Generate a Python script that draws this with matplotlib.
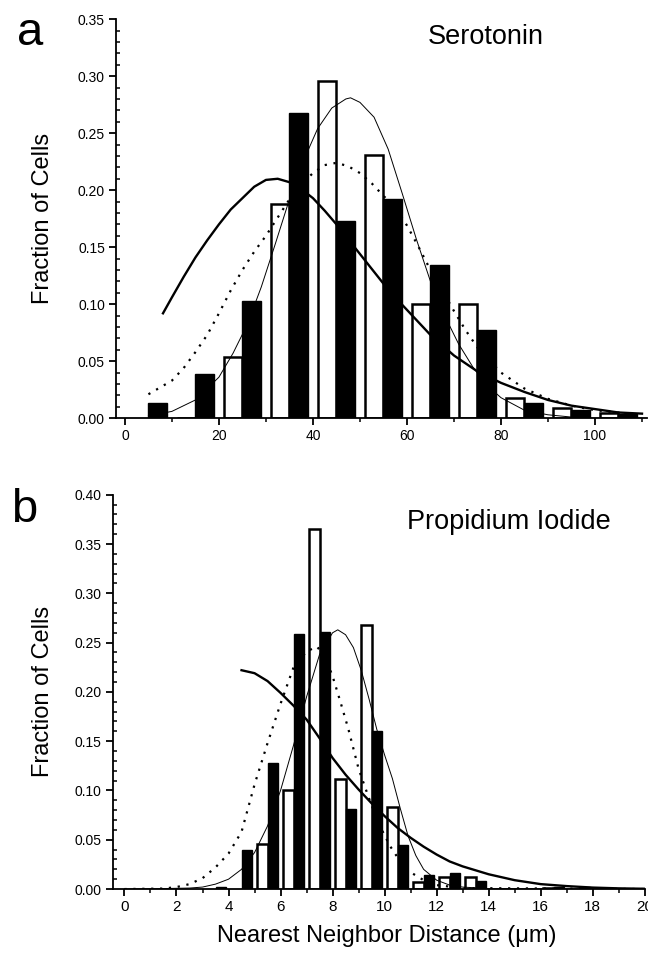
# Nearest-neighbor distance histograms with fitted distributions,
# panel a: serotonin-labelled cells, panel b: propidium iodide.
import matplotlib
matplotlib.use('Agg')
import matplotlib.pyplot as plt
from matplotlib.ticker import MultipleLocator, FormatStrFormatter

plt.rcParams['font.family'] = ['Liberation Sans', 'DejaVu Sans']

# ---- panel a data (distance in um, fraction of cells) ----
a_black_x = [7, 17, 27, 37, 47, 57, 67, 77, 87, 97, 107]
a_black_y = [0.013, 0.039, 0.103, 0.268, 0.173, 0.192, 0.134, 0.077, 0.013, 0.007, 0.004]
a_white_x = [13, 23, 33, 43, 53, 63, 73, 83, 93, 103]
a_white_y = [0.0, 0.054, 0.188, 0.296, 0.231, 0.100, 0.100, 0.018, 0.009, 0.005]

a_thick_x = [8.1, 10, 12.5, 15, 17.5, 20, 22.5, 25, 27.5, 30, 32.5, 35, 37.5, 40,
             42.5, 45, 47.5, 50, 52.5, 55, 57.5, 60, 62.5, 65, 67.5, 70, 72.5, 75,
             80, 85, 90, 95, 100, 105, 110]
a_thick_y = [0.092, 0.106, 0.124, 0.141, 0.156, 0.170, 0.183, 0.193, 0.203, 0.209,
             0.210, 0.207, 0.201, 0.193, 0.182, 0.170, 0.157, 0.144, 0.131, 0.118,
             0.106, 0.095, 0.084, 0.073, 0.064, 0.055, 0.048, 0.041, 0.031, 0.023,
             0.016, 0.011, 0.008, 0.005, 0.004]

a_thin_x = [5, 10, 15, 20, 23, 26, 29, 32, 35, 38, 41, 44, 47, 48, 50, 53, 56, 59,
            62, 65, 68, 71, 74, 77, 80, 85, 90, 95, 100, 110]
a_thin_y = [0.002, 0.006, 0.016, 0.036, 0.057, 0.082, 0.115, 0.153, 0.192, 0.226,
            0.254, 0.272, 0.280, 0.281, 0.277, 0.264, 0.236, 0.197, 0.157, 0.120,
            0.090, 0.065, 0.045, 0.029, 0.018, 0.007, 0.003, 0.001, 0.0, 0.0]

a_dot_x = [5, 7.5, 10, 12.5, 15, 17.5, 20, 22.5, 25, 27.5, 30, 32.5, 35, 37.5, 40,
           42.5, 45, 47.5, 50, 52.5, 55, 57.5, 60, 62.5, 65, 67.5, 70, 72.5, 75,
           80, 85, 90, 95, 100, 105, 110]
a_dot_y = [0.021, 0.027, 0.033, 0.044, 0.058, 0.073, 0.092, 0.112, 0.130, 0.146,
           0.160, 0.176, 0.192, 0.205, 0.215, 0.222, 0.224, 0.221, 0.215, 0.206,
           0.195, 0.185, 0.169, 0.150, 0.130, 0.112, 0.094, 0.077, 0.062, 0.040,
           0.026, 0.017, 0.011, 0.007, 0.005, 0.003]

# ---- panel b data ----
b_black_x = [3.7, 4.7, 5.7, 6.7, 7.7, 8.7, 9.7, 10.7, 11.7, 12.7, 13.7, 16.7, 17.7]
b_black_y = [0.002, 0.040, 0.128, 0.259, 0.261, 0.081, 0.160, 0.045, 0.014, 0.016,
             0.008, 0.002, 0.002]
b_white_x = [5.3, 6.3, 7.3, 8.3, 9.3, 10.3, 11.3, 12.3, 13.3, 16.3]
b_white_y = [0.046, 0.100, 0.365, 0.112, 0.268, 0.083, 0.007, 0.012, 0.012, 0.001]

b_thick_x = [4.5, 5.0, 5.5, 6.0, 6.5, 7.0, 7.5, 8.0, 8.5, 9.0, 9.5, 10.0, 10.5,
             11.0, 11.5, 12.0, 12.5, 13.0, 14.0, 15.0, 16.0, 17.0, 18.0, 19.0, 20.0]
b_thick_y = [0.222, 0.219, 0.211, 0.199, 0.186, 0.172, 0.153, 0.133, 0.116, 0.101,
             0.087, 0.074, 0.062, 0.052, 0.043, 0.035, 0.028, 0.023, 0.015, 0.009,
             0.005, 0.003, 0.0015, 0.0007, 0.0003]

b_thin_x = [0.0, 1.5, 2.5, 3.0, 3.5, 4.0, 4.5, 5.0, 5.5, 6.0, 6.5, 7.0, 7.5, 8.0,
            8.2, 8.5, 8.8, 9.1, 9.4, 9.7, 10.0, 10.3, 10.6, 10.9, 11.2, 11.5, 12.0,
            12.5, 13.0, 14.0, 20.0]
b_thin_y = [0.0, 0.0005, 0.001, 0.002, 0.005, 0.010, 0.020, 0.037, 0.064, 0.100,
            0.146, 0.195, 0.238, 0.260, 0.263, 0.258, 0.245, 0.222, 0.193, 0.162,
            0.136, 0.112, 0.082, 0.054, 0.034, 0.020, 0.009, 0.004, 0.002, 0.0005, 0.0]

b_dot_x = [0.0, 1.5, 2.0, 2.5, 3.0, 3.5, 4.0, 4.5, 5.0, 5.5, 6.0, 6.5, 7.0, 7.4,
           7.7, 8.0, 8.3, 8.6, 9.0, 9.4, 9.8, 10.2, 10.6, 11.0, 11.5, 12.0, 13.0, 20.0]
b_dot_y = [0.0, 0.0005, 0.002, 0.005, 0.011, 0.022, 0.036, 0.058, 0.106, 0.148,
           0.188, 0.225, 0.241, 0.246, 0.236, 0.216, 0.190, 0.163, 0.122, 0.092,
           0.065, 0.044, 0.028, 0.017, 0.009, 0.004, 0.001, 0.0]


def style_axis(ax):
    # left and bottom axes only, Origin-like tick marks
    ax.spines['top'].set_visible(False)
    ax.spines['right'].set_visible(False)
    ax.spines['left'].set_linewidth(1.3)
    ax.spines['bottom'].set_linewidth(1.3)
    ax.tick_params(axis='both', which='major', direction='out', length=5,
                   width=1.3, labelsize=10, pad=3)
    ax.tick_params(axis='y', which='minor', direction='in', length=3, width=1.1)
    ax.tick_params(axis='x', which='minor', direction='out', length=3, width=1.1)
    ax.yaxis.set_minor_locator(MultipleLocator(0.01))
    ax.yaxis.set_major_formatter(FormatStrFormatter('%.2f'))


def draw_panel(ax, wx, wy, bx, by, width, tx, ty, nx, ny, dx, dy):
    ax.bar(wx, wy, width=width, color='white', edgecolor='black', linewidth=1.8, zorder=2)
    ax.bar(bx, by, width=width, color='black', edgecolor='black', linewidth=1.0, zorder=2)
    ax.plot(tx, ty, color='black', linewidth=1.7, zorder=3)
    ax.plot(nx, ny, color='black', linewidth=0.7, zorder=3)
    ax.plot(dx, dy, color='black', linewidth=1.6, linestyle=(0, (1, 3)), zorder=3)


fig = plt.figure(figsize=(6.48, 9.57), dpi=100)

# panel a
axa = fig.add_axes([0.179, 0.563, 0.819, 0.417])
draw_panel(axa, a_white_x, a_white_y, a_black_x, a_black_y, 4.0,
           a_thick_x, a_thick_y, a_thin_x, a_thin_y, a_dot_x, a_dot_y)
axa.set_xlim(-1.9, 111)
axa.set_ylim(0, 0.35)
axa.xaxis.set_major_locator(MultipleLocator(20))
axa.xaxis.set_minor_locator(MultipleLocator(10))
axa.yaxis.set_major_locator(MultipleLocator(0.05))
style_axis(axa)
axa.text(64.5, 0.334, 'Serotonin', fontsize=19.5, va='center', ha='left')

# panel b
axb = fig.add_axes([0.174, 0.071, 0.821, 0.412])
draw_panel(axb, b_white_x, b_white_y, b_black_x, b_black_y, 0.4,
           b_thick_x, b_thick_y, b_thin_x, b_thin_y, b_dot_x, b_dot_y)
axb.set_xlim(-0.45, 20)
axb.set_ylim(0, 0.40)
axb.xaxis.set_major_locator(MultipleLocator(2))
axb.xaxis.set_minor_locator(MultipleLocator(1))
axb.yaxis.set_major_locator(MultipleLocator(0.05))
style_axis(axb)
# the x tick numbers of panel b are set in a narrower face
for lab in axb.get_xticklabels():
    lab.set_fontfamily(['Liberation Sans Narrow', 'Liberation Sans'])
    lab.set_fontsize(11)
axb.text(10.85, 0.372, 'Propidium Iodide', fontsize=19.5, va='center', ha='left')

# shared labels
fig.text(0.066, (0.563 + 0.417 / 2), 'Fraction of Cells', rotation=90,
         fontsize=17, ha='center', va='center')
fig.text(0.066, (0.071 + 0.412 / 2), 'Fraction of Cells', rotation=90,
         fontsize=17, ha='center', va='center')
fig.text(0.597, 0.022, 'Nearest Neighbor Distance (\u03bcm)', fontsize=17,
         ha='center', va='center')
fig.text(0.047, 0.953, 'a', fontsize=34, ha='center', va='baseline')
fig.text(0.037, 0.455, 'b', fontsize=34, ha='center', va='baseline')

fig.savefig('out.png', dpi=100)
